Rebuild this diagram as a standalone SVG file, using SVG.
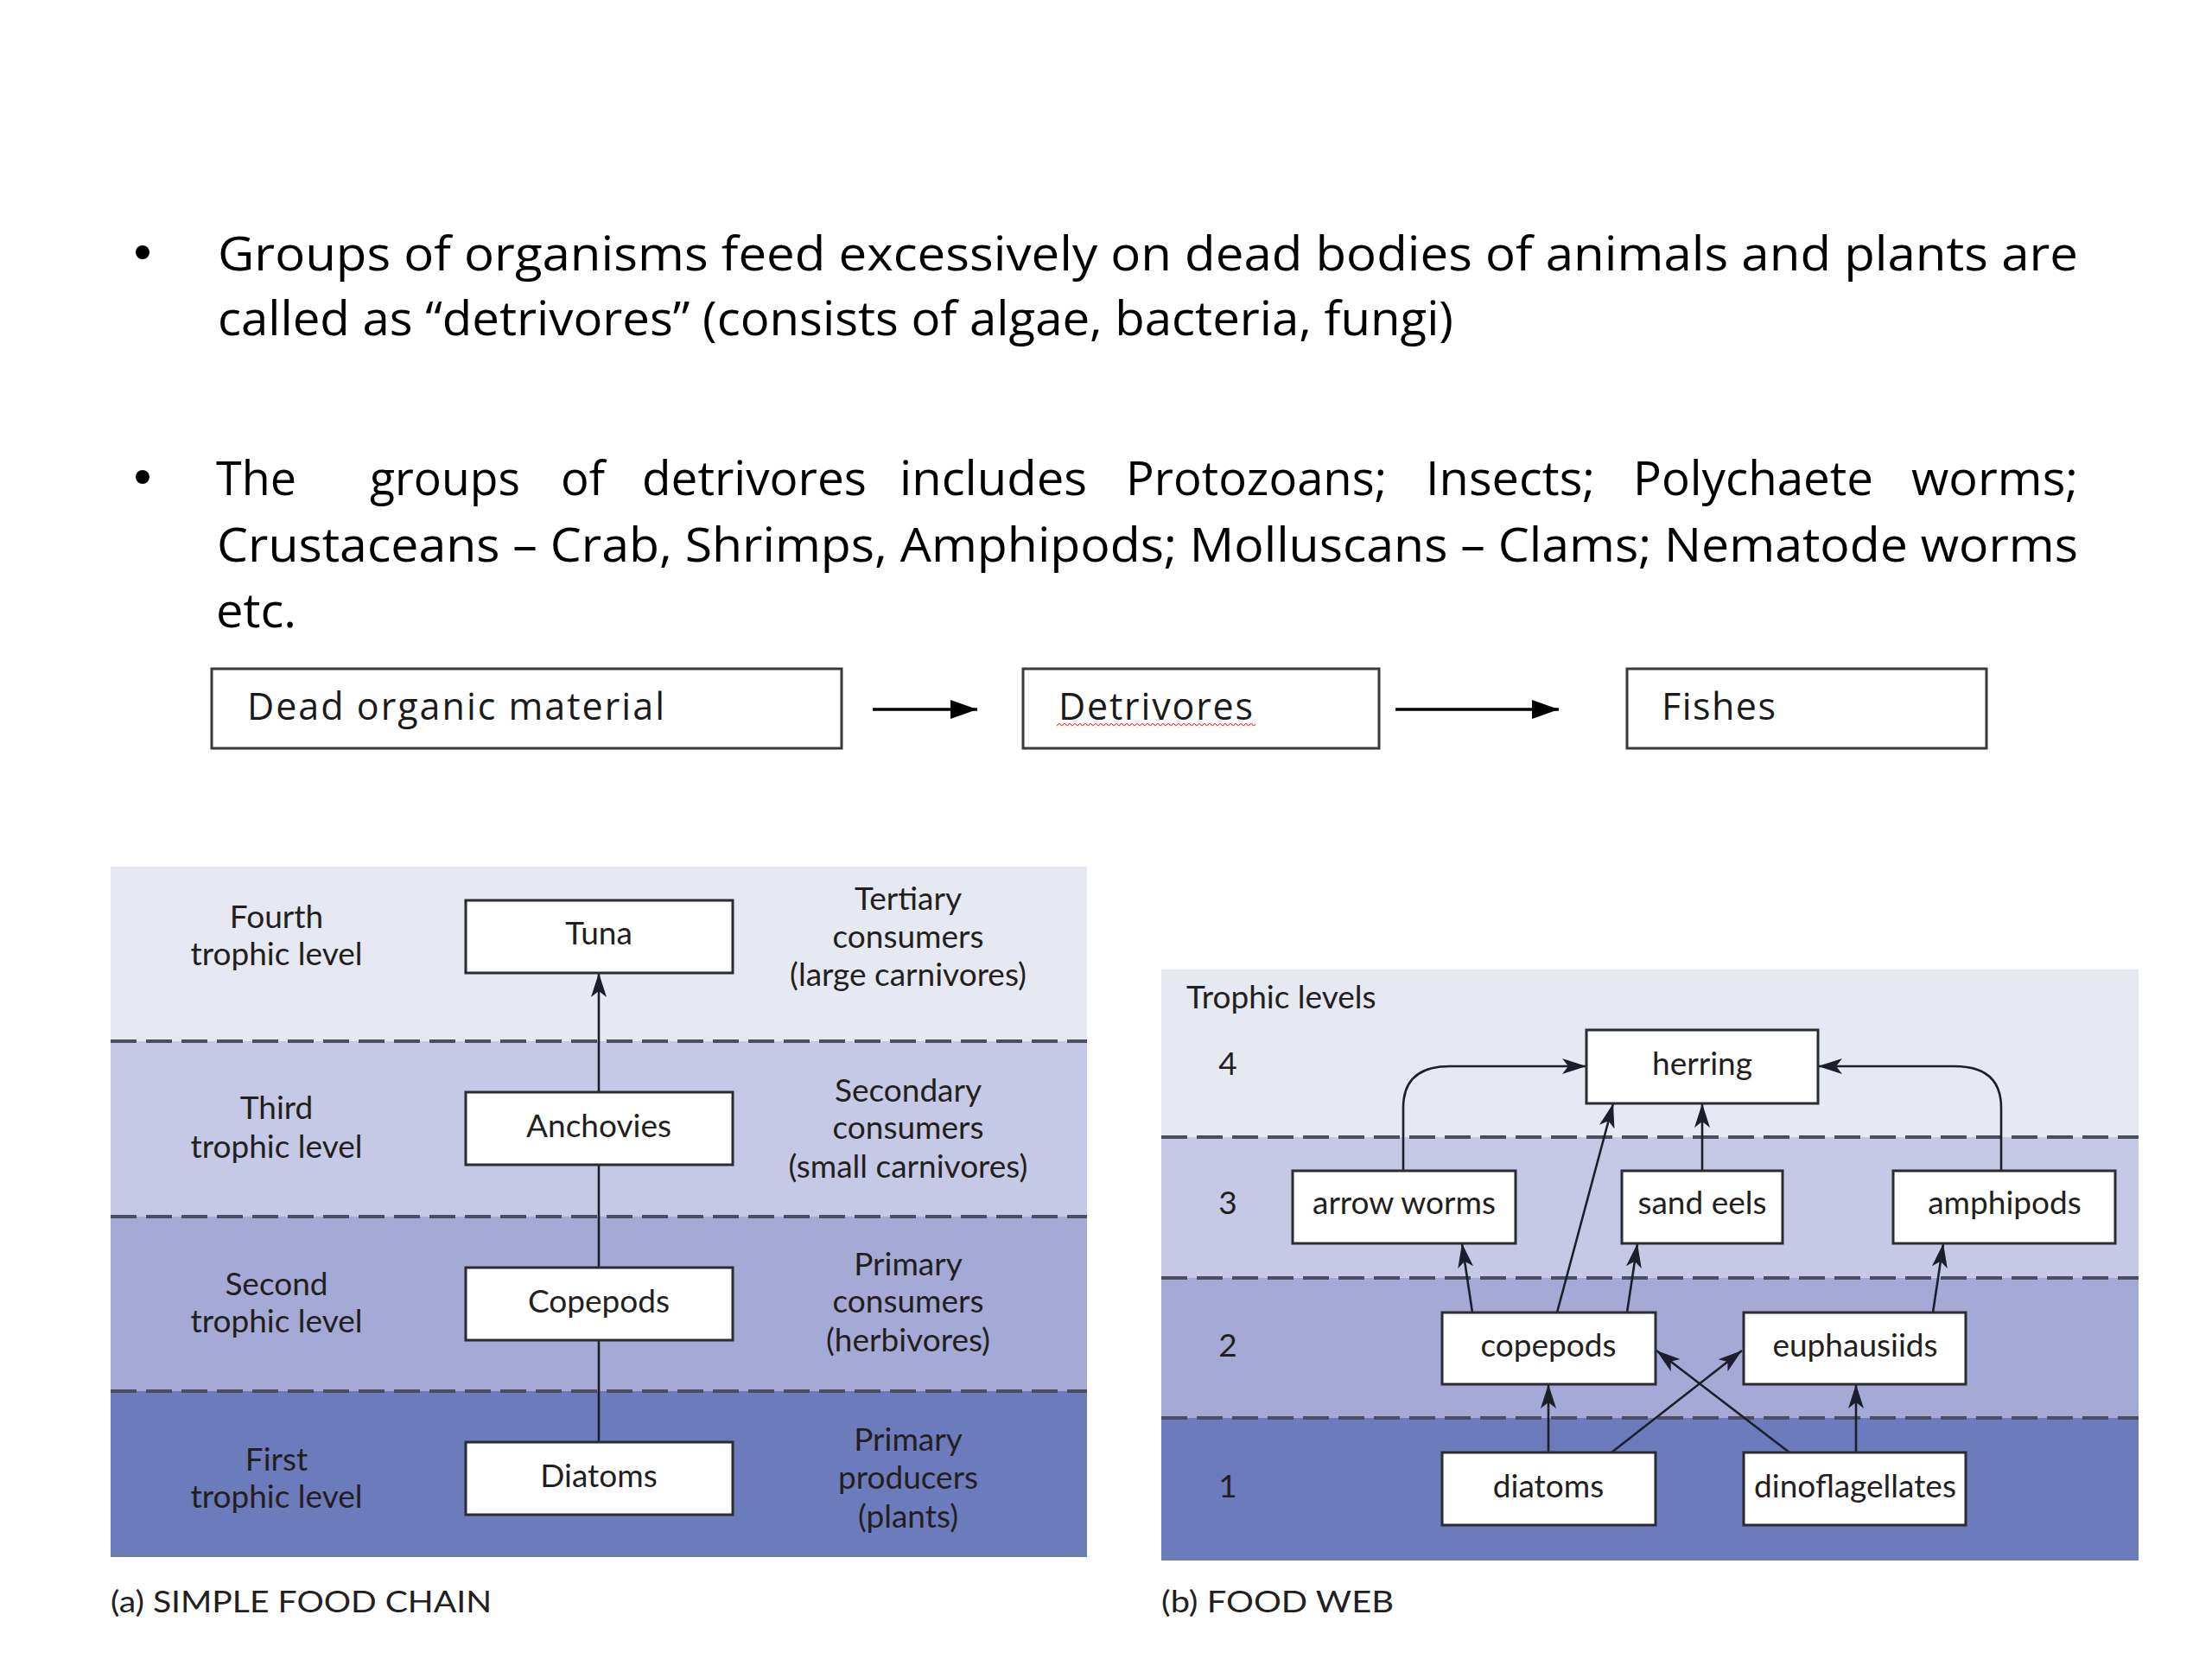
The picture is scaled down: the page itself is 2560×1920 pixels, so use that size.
<svg xmlns="http://www.w3.org/2000/svg" width="2560" height="1920" viewBox="0 0 2560 1920">
<style>
.body{font-family:"Open Sans","Liberation Sans",sans-serif;font-size:55px;fill:#000}
.mid{font-family:"Open Sans","Liberation Sans",sans-serif;font-size:43px;fill:#1a1a1a}
.lbl{font-family:Lato,"Liberation Sans",sans-serif;font-size:37px;fill:#231f20}
.cap{font-family:Lato,"Liberation Sans",sans-serif;font-size:34px;fill:#231f20}
.mbox{fill:#fff;stroke:#3a3a3a;stroke-width:3}
.box{fill:#fff;stroke:#2b2b33;stroke-width:3}
.dash{stroke:#4a4e62;stroke-width:4;stroke-dasharray:30 11;fill:none}
.con{fill:none;stroke:#1c1e2c;stroke-width:2.6;marker-end:url(#barb)}
.mcon{fill:none;stroke:#000;stroke-width:3.5;marker-end:url(#tri)}
</style>
<defs>
<marker id="barb" markerUnits="userSpaceOnUse" markerWidth="30" markerHeight="20" viewBox="0 0 30 20" refX="28" refY="10" orient="auto">
<path d="M0 1 L28 10 L0 19 L7 10 Z" fill="#1c1e2c"/>
</marker>
<marker id="tri" markerUnits="userSpaceOnUse" markerWidth="32" markerHeight="24" viewBox="0 0 32 24" refX="31" refY="12" orient="auto">
<path d="M0 1 L31 12 L0 23 Z" fill="#000"/>
</marker>
<pattern id="squig" patternUnits="userSpaceOnUse" width="6" height="5" x="1223" y="836">
<path d="M0 4 L3 1 L6 4" fill="none" stroke="#d9534f" stroke-width="1.2"/>
</pattern>
</defs>
<rect width="2560" height="1920" fill="#fff"/>

<g id="bullets">
<circle cx="165" cy="292" r="8" fill="#000"/>
<text class="body" x="252" y="313" textLength="2153" lengthAdjust="spacingAndGlyphs">Groups of organisms feed excessively on dead bodies of animals and plants are</text>
<text class="body" x="252" y="388" textLength="1430" lengthAdjust="spacingAndGlyphs">called as “detrivores” (consists of algae, bacteria, fungi)</text>
<circle cx="165" cy="552" r="8" fill="#000"/>
<text class="body" y="573">
<tspan x="250" textLength="93" lengthAdjust="spacingAndGlyphs">The</tspan>
<tspan x="428" textLength="174" lengthAdjust="spacingAndGlyphs">groups</tspan>
<tspan x="649" textLength="51" lengthAdjust="spacingAndGlyphs">of</tspan>
<tspan x="743" textLength="260" lengthAdjust="spacingAndGlyphs">detrivores</tspan>
<tspan x="1041" textLength="217" lengthAdjust="spacingAndGlyphs">includes</tspan>
<tspan x="1303" textLength="302" lengthAdjust="spacingAndGlyphs">Protozoans;</tspan>
<tspan x="1650" textLength="196" lengthAdjust="spacingAndGlyphs">Insects;</tspan>
<tspan x="1890" textLength="278" lengthAdjust="spacingAndGlyphs">Polychaete</tspan>
<tspan x="2212" textLength="193" lengthAdjust="spacingAndGlyphs">worms;</tspan>
</text>
<text class="body" x="251" y="650" textLength="2154" lengthAdjust="spacingAndGlyphs">Crustaceans – Crab, Shrimps, Amphipods; Molluscans – Clams; Nematode worms</text>
<text class="body" x="250" y="726" textLength="93" lengthAdjust="spacingAndGlyphs">etc.</text>
</g>

<g id="chain-top">
<g id="dead-organic">
<rect class="mbox" x="245" y="774" width="729" height="92"/>
<text class="mid" x="286" y="833" textLength="483" lengthAdjust="spacing">Dead organic material</text>
</g>
<g id="detrivores">
<rect class="mbox" x="1184" y="774" width="412" height="92"/>
<text class="mid" x="1225" y="833" textLength="225" lengthAdjust="spacing">Detrivores</text>
<rect x="1223" y="837" width="230" height="5" fill="url(#squig)"/>
</g>
<g id="fishes">
<rect class="mbox" x="1883" y="774" width="416" height="92"/>
<text class="mid" x="1923" y="833" textLength="132" lengthAdjust="spacing">Fishes</text>
</g>
</g>
<g id="chain-top-connectors">
<path class="mcon" d="M1010 821 H1131"/>
<path class="mcon" d="M1615 821 H1804"/>
</g>

<g id="panel-a">
<rect x="128" y="1003" width="1130" height="202" fill="#e6e8f2"/>
<rect x="128" y="1205" width="1130" height="203" fill="#c5c9e5"/>
<rect x="128" y="1408" width="1130" height="202" fill="#a4aad5"/>
<rect x="128" y="1610" width="1130" height="192" fill="#6b7bbc"/>
<path class="dash" d="M128 1205 H1258 M128 1408 H1258 M128 1610 H1258"/>
<g id="a-levels">
<text class="lbl" text-anchor="middle" x="320" y="1074">Fourth</text>
<text class="lbl" text-anchor="middle" x="320" y="1117">trophic level</text>
<text class="lbl" text-anchor="middle" x="320" y="1295">Third</text>
<text class="lbl" text-anchor="middle" x="320" y="1340">trophic level</text>
<text class="lbl" text-anchor="middle" x="320" y="1499">Second</text>
<text class="lbl" text-anchor="middle" x="320" y="1542">trophic level</text>
<text class="lbl" text-anchor="middle" x="320" y="1702">First</text>
<text class="lbl" text-anchor="middle" x="320" y="1745">trophic level</text>
</g>
<g id="a-roles">
<text class="lbl" text-anchor="middle" x="1051" y="1053">Tertiary</text>
<text class="lbl" text-anchor="middle" x="1051" y="1097">consumers</text>
<text class="lbl" text-anchor="middle" x="1051" y="1141">(large carnivores)</text>
<text class="lbl" text-anchor="middle" x="1051" y="1275">Secondary</text>
<text class="lbl" text-anchor="middle" x="1051" y="1318">consumers</text>
<text class="lbl" text-anchor="middle" x="1051" y="1363">(small carnivores)</text>
<text class="lbl" text-anchor="middle" x="1051" y="1476">Primary</text>
<text class="lbl" text-anchor="middle" x="1051" y="1519">consumers</text>
<text class="lbl" text-anchor="middle" x="1051" y="1564">(herbivores)</text>
<text class="lbl" text-anchor="middle" x="1051" y="1679">Primary</text>
<text class="lbl" text-anchor="middle" x="1051" y="1723">producers</text>
<text class="lbl" text-anchor="middle" x="1051" y="1768">(plants)</text>
</g>
<g id="a-connectors">
<path class="con" d="M693 1669 V1126"/>
</g>
<g id="tuna"><rect class="box" x="539" y="1042" width="309" height="84"/><text class="lbl" text-anchor="middle" x="693" y="1093">Tuna</text></g>
<g id="anchovies"><rect class="box" x="539" y="1264" width="309" height="84"/><text class="lbl" text-anchor="middle" x="693" y="1316">Anchovies</text></g>
<g id="copepods-a"><rect class="box" x="539" y="1467" width="309" height="84"/><text class="lbl" text-anchor="middle" x="693" y="1519">Copepods</text></g>
<g id="diatoms-a"><rect class="box" x="539" y="1669" width="309" height="84"/><text class="lbl" text-anchor="middle" x="693" y="1721">Diatoms</text></g>
<text class="cap" x="128" y="1866" textLength="441" lengthAdjust="spacingAndGlyphs">(a) SIMPLE FOOD CHAIN</text>
</g>

<g id="panel-b">
<rect x="1344" y="1122" width="1131" height="194" fill="#e6e8f2"/>
<rect x="1344" y="1316" width="1131" height="163" fill="#c5c9e5"/>
<rect x="1344" y="1479" width="1131" height="162" fill="#a4aad5"/>
<rect x="1344" y="1641" width="1131" height="165" fill="#6b7bbc"/>
<path class="dash" d="M1344 1316 H2475 M1344 1479 H2475 M1344 1641 H2475"/>
<text class="lbl" x="1373" y="1167">Trophic levels</text>
<text class="lbl" text-anchor="middle" x="1421" y="1244">4</text>
<text class="lbl" text-anchor="middle" x="1421" y="1405">3</text>
<text class="lbl" text-anchor="middle" x="1421" y="1570">2</text>
<text class="lbl" text-anchor="middle" x="1421" y="1733">1</text>
<g id="b-connectors">
<path class="con" d="M1624 1355 V1282 Q1624 1234 1678 1234 H1836"/>
<path class="con" d="M2316 1355 V1282 Q2316 1234 2262 1234 H2104"/>
<path class="con" d="M1970 1355 V1277"/>
<path class="con" d="M1802 1519 L1867 1277"/>
<path class="con" d="M1704 1519 L1692 1439"/>
<path class="con" d="M1883 1519 L1895 1439"/>
<path class="con" d="M2237 1519 L2249 1439"/>
<path class="con" d="M1792 1681 V1602"/>
<path class="con" d="M2148 1681 V1602"/>
<path class="con" d="M1865 1681 L2016 1563"/>
<path class="con" d="M2071 1681 L1917 1563"/>
</g>
<g id="herring"><rect class="box" x="1836" y="1192" width="268" height="85"/><text class="lbl" text-anchor="middle" x="1970" y="1244">herring</text></g>
<g id="arrow-worms"><rect class="box" x="1496" y="1355" width="258" height="84"/><text class="lbl" text-anchor="middle" x="1625" y="1405">arrow worms</text></g>
<g id="sand-eels"><rect class="box" x="1877" y="1355" width="186" height="84"/><text class="lbl" text-anchor="middle" x="1970" y="1405">sand eels</text></g>
<g id="amphipods"><rect class="box" x="2191" y="1355" width="257" height="84"/><text class="lbl" text-anchor="middle" x="2320" y="1405">amphipods</text></g>
<g id="copepods-b"><rect class="box" x="1669" y="1519" width="247" height="83"/><text class="lbl" text-anchor="middle" x="1792" y="1570">copepods</text></g>
<g id="euphausiids"><rect class="box" x="2018" y="1519" width="257" height="83"/><text class="lbl" text-anchor="middle" x="2147" y="1570">euphausiids</text></g>
<g id="diatoms-b"><rect class="box" x="1669" y="1681" width="247" height="84"/><text class="lbl" text-anchor="middle" x="1792" y="1733">diatoms</text></g>
<g id="dinoflagellates"><rect class="box" x="2018" y="1681" width="257" height="84"/><text class="lbl" text-anchor="middle" x="2147" y="1733">dinoflagellates</text></g>
<text class="cap" x="1344" y="1866" textLength="269" lengthAdjust="spacingAndGlyphs">(b) FOOD WEB</text>
</g>
</svg>
